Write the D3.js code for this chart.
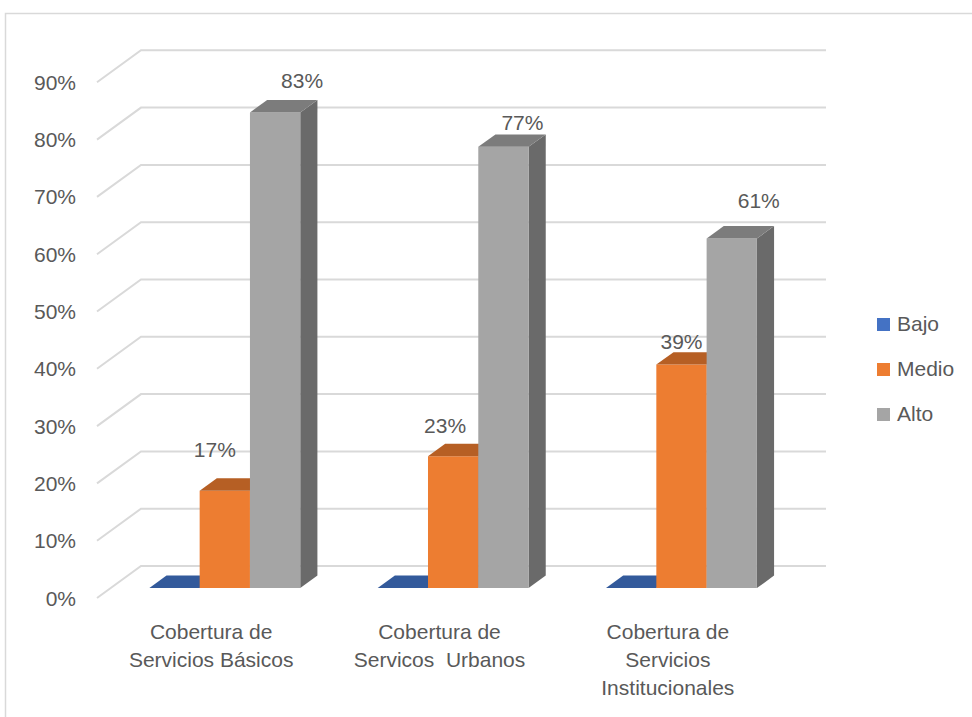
<!DOCTYPE html>
<html>
<head>
<meta charset="utf-8">
<script src="https://cdn.jsdelivr.net/npm/d3@7"></script>
<style>
  html, body { margin: 0; padding: 0; background: #fff; }
  svg { display: block; font-family: "Liberation Sans", Arial, sans-serif; }
  text { fill: #595959; white-space: pre; }
</style>
</head>
<body>
<svg id="chart" width="972" height="717"></svg>
<script>
// Categories (axis labels split into lines)
const categories = [
  ["Cobertura de", "Servicios Básicos"],
  ["Cobertura de", "Servicos  Urbanos"],
  ["Cobertura de", "Servicios", "Institucionales"]
];
const series = ["Bajo", "Medio", "Alto"];
const bajo  = [0, 0, 0];
const medio = [0.17, 0.23, 0.39];
const alto  = [0.83, 0.77, 0.61];
const tickValues = [0, 0.1, 0.2, 0.3, 0.4, 0.5, 0.6, 0.7, 0.8, 0.9];

const values = [bajo, medio, alto];

// Face colours per series: front, top, side
const faces = {
  Bajo:  { front: "#4472C4", top: "#335A9B", side: "#2B4C84" },
  Medio: { front: "#ED7D31", top: "#B65F24", side: "#A3541F" },
  Alto:  { front: "#A5A5A5", top: "#7C7C7C", side: "#6A6A6A" }
};

// Small nudges for value labels (dx, dy from bar top centre), per series then category
const labelNudge = {
  Medio: [[-10, -34], [-8, -23], [0, -16]],
  Alto:  [[27, -24], [19, -17], [27, -31]]
};

// Oblique 3D geometry
const floorY = 598;          // front edge of the floor
const depth = { dx: 44, dy: -32 };
const barZ0 = 0.31, barZ1 = 0.70;   // bar depth span as fraction of floor depth
const wallRight = 826;

const svg = d3.select("#chart");

const x0 = d3.scaleBand().domain(d3.range(categories.length)).range([97, 782]);
const x1 = d3.scaleBand().domain(series).range([0, x0.bandwidth()]).paddingOuter(0.77);
const h = d3.scaleLinear().domain([0, 0.9]).range([0, 515.7]);

const proj = (x, v, z) => [x + z * depth.dx, floorY - h(v) + z * depth.dy];

// Outer frame
svg.append("rect")
  .attr("x", 5.5).attr("y", 13.5).attr("width", 1000).attr("height", 1000)
  .attr("fill", "none").attr("stroke", "#D9D9D9").attr("stroke-width", 1.5);

// Gridlines: side wall diagonal + back wall horizontal
const grid = svg.append("g").attr("fill", "none").attr("stroke", "#D9D9D9").attr("stroke-width", 2);
tickValues.forEach(v => {
  const a = proj(97, v, 0), b = proj(97, v, 1);
  const c = [wallRight, b[1]];
  grid.append("path").attr("d", d3.line()([a, b, c]));
});

// Tick labels
svg.append("g").selectAll("text").data(tickValues).join("text")
  .attr("x", 76).attr("y", v => proj(97, v, 0)[1])
  .attr("dy", "0.36em")
  .attr("text-anchor", "end")
  .attr("font-size", 21)
  .text(d3.format(".0%"));

// Bars (drawn left to right so later fronts cover earlier sides)
const bars = svg.append("g");
const poly = pts => "M" + pts.map(p => p.join(",")).join("L") + "Z";
categories.forEach((cat, ci) => {
  series.forEach((s, si) => {
    const v = values[si][ci];
    const xl = x0(ci) + x1(s), xr = xl + x1.bandwidth();
    const f = faces[s];
    const fbl = proj(xl, 0, barZ0), fbr = proj(xr, 0, barZ0);
    const ftl = proj(xl, v, barZ0), ftr = proj(xr, v, barZ0);
    const btl = proj(xl, v, barZ1), btr = proj(xr, v, barZ1);
    const bbr = proj(xr, 0, barZ1);
    if (v > 0) {
      bars.append("path").attr("d", poly([fbr, bbr, btr, ftr])).attr("fill", f.side);
      bars.append("path").attr("d", poly([fbl, fbr, ftr, ftl])).attr("fill", f.front);
    }
    bars.append("path").attr("d", poly([ftl, ftr, btr, btl])).attr("fill", f.top);
  });
});

// Value labels
const labels = svg.append("g").attr("font-size", 21).attr("text-anchor", "middle");
["Medio", "Alto"].forEach(s => {
  const si = series.indexOf(s);
  categories.forEach((cat, ci) => {
    const v = values[si][ci];
    const cx = x0(ci) + x1(s) + x1.bandwidth() / 2;
    const [px, py] = proj(cx, v, barZ0);
    const [nx, ny] = labelNudge[s][ci];
    labels.append("text").attr("x", px + nx).attr("y", py + ny)
      .text(d3.format(".0%")(v));
  });
});

// Category axis labels
const catG = svg.append("g").attr("font-size", 21).attr("text-anchor", "middle");
categories.forEach((lines, ci) => {
  const t = catG.append("text").attr("x", x0(ci) + x0.bandwidth() / 2).attr("y", 639);
  lines.forEach((ln, li) => {
    t.append("tspan").attr("x", x0(ci) + x0.bandwidth() / 2)
      .attr("dy", li === 0 ? 0 : 28).text(ln);
  });
});

// Legend
const legend = svg.append("g").attr("transform", "translate(877,318)");
series.forEach((s, i) => {
  const g = legend.append("g").attr("transform", `translate(0,${i * 45})`);
  g.append("rect").attr("width", 13).attr("height", 13).attr("fill", faces[s].front);
  g.append("text").attr("x", 20).attr("y", 13).attr("font-size", 21).text(s);
});
</script>
</body>
</html>
